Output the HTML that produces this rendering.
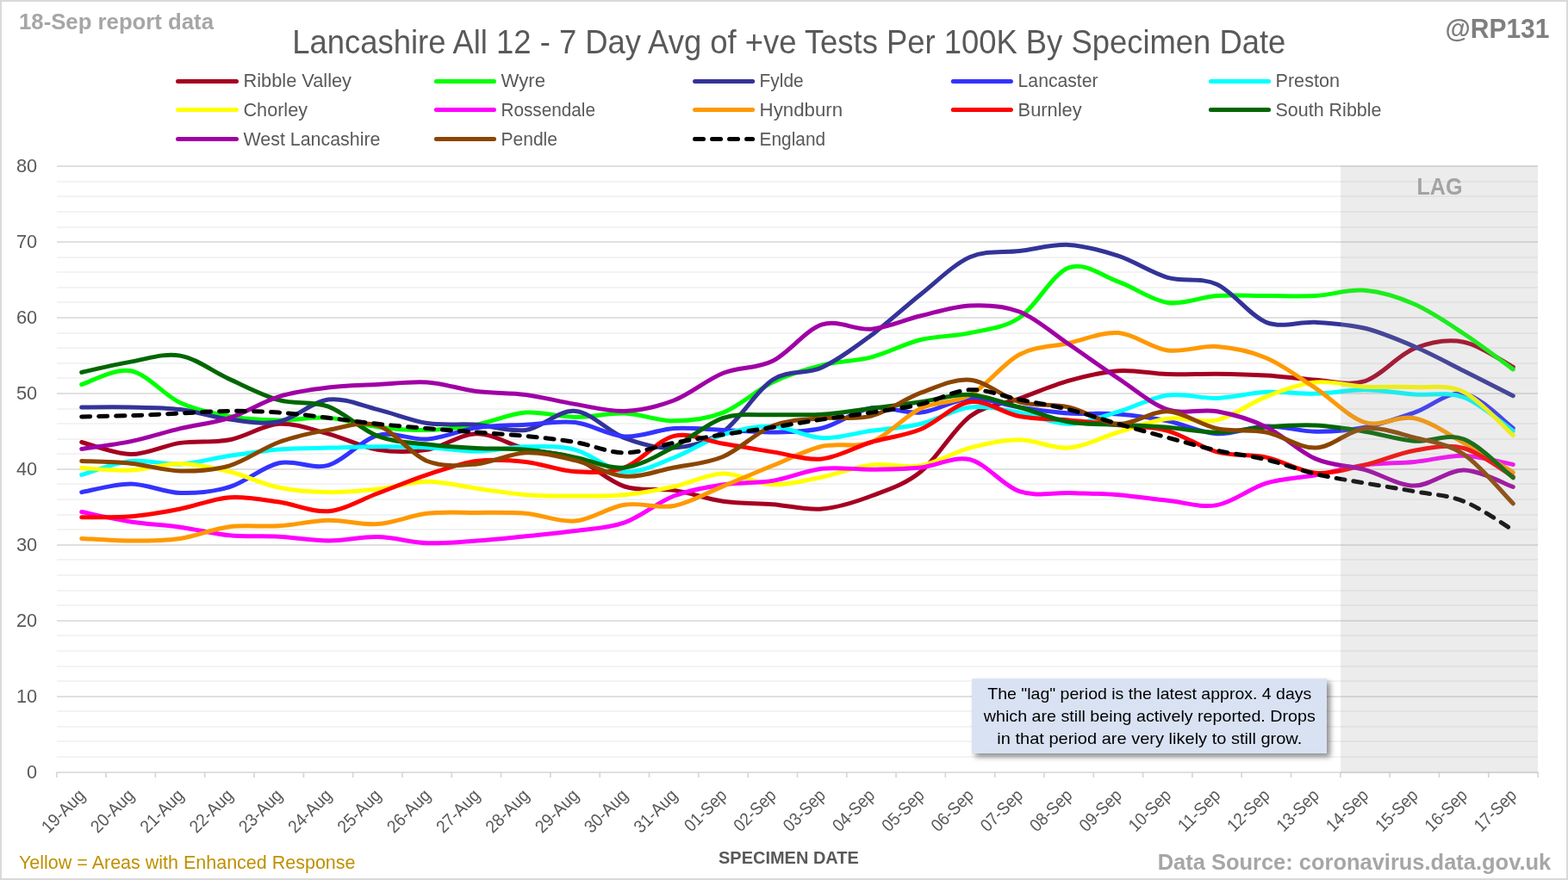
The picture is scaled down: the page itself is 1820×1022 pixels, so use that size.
<!DOCTYPE html>
<html lang="en"><head><meta charset="utf-8"><title>Lancashire All 12 - 7 Day Avg of +ve Tests Per 100K By Specimen Date</title>
<style>
html,body{margin:0;padding:0;background:#fff;}
body{width:1820px;height:1022px;overflow:hidden;}
svg{display:block;font-family:"Liberation Sans",sans-serif;}
.ax{fill:#595959;font-size:22.2px;}
.lg{fill:#595959;font-size:22px;}
.b{font-weight:bold;}
</style></head><body>
<svg width="1820" height="1022" viewBox="0 0 1820 1022">
<rect x="0" y="0" width="1820" height="1022" fill="#fff"/>
<rect x="1" y="1" width="1818" height="1020" fill="none" stroke="#D9D9D9" stroke-width="2"/>
<g stroke="#EFEFEF" stroke-width="1.4">
<line x1="66.0" x2="1785.0" y1="879.00" y2="879.00"/>
<line x1="66.0" x2="1785.0" y1="861.00" y2="861.00"/>
<line x1="66.0" x2="1785.0" y1="844.00" y2="844.00"/>
<line x1="66.0" x2="1785.0" y1="826.00" y2="826.00"/>
<line x1="66.0" x2="1785.0" y1="791.00" y2="791.00"/>
<line x1="66.0" x2="1785.0" y1="774.00" y2="774.00"/>
<line x1="66.0" x2="1785.0" y1="756.00" y2="756.00"/>
<line x1="66.0" x2="1785.0" y1="738.00" y2="738.00"/>
<line x1="66.0" x2="1785.0" y1="703.00" y2="703.00"/>
<line x1="66.0" x2="1785.0" y1="686.00" y2="686.00"/>
<line x1="66.0" x2="1785.0" y1="668.00" y2="668.00"/>
<line x1="66.0" x2="1785.0" y1="650.00" y2="650.00"/>
<line x1="66.0" x2="1785.0" y1="615.00" y2="615.00"/>
<line x1="66.0" x2="1785.0" y1="598.00" y2="598.00"/>
<line x1="66.0" x2="1785.0" y1="580.00" y2="580.00"/>
<line x1="66.0" x2="1785.0" y1="562.00" y2="562.00"/>
<line x1="66.0" x2="1785.0" y1="527.00" y2="527.00"/>
<line x1="66.0" x2="1785.0" y1="510.00" y2="510.00"/>
<line x1="66.0" x2="1785.0" y1="492.00" y2="492.00"/>
<line x1="66.0" x2="1785.0" y1="475.00" y2="475.00"/>
<line x1="66.0" x2="1785.0" y1="439.00" y2="439.00"/>
<line x1="66.0" x2="1785.0" y1="422.00" y2="422.00"/>
<line x1="66.0" x2="1785.0" y1="404.00" y2="404.00"/>
<line x1="66.0" x2="1785.0" y1="387.00" y2="387.00"/>
<line x1="66.0" x2="1785.0" y1="351.00" y2="351.00"/>
<line x1="66.0" x2="1785.0" y1="334.00" y2="334.00"/>
<line x1="66.0" x2="1785.0" y1="316.00" y2="316.00"/>
<line x1="66.0" x2="1785.0" y1="299.00" y2="299.00"/>
<line x1="66.0" x2="1785.0" y1="264.00" y2="264.00"/>
<line x1="66.0" x2="1785.0" y1="246.00" y2="246.00"/>
<line x1="66.0" x2="1785.0" y1="228.00" y2="228.00"/>
<line x1="66.0" x2="1785.0" y1="211.00" y2="211.00"/>
</g>
<g stroke="#D6D6D6" stroke-width="1.7">
<line x1="66.0" x2="1785.0" y1="809.00" y2="809.00"/>
<line x1="66.0" x2="1785.0" y1="721.00" y2="721.00"/>
<line x1="66.0" x2="1785.0" y1="633.00" y2="633.00"/>
<line x1="66.0" x2="1785.0" y1="545.00" y2="545.00"/>
<line x1="66.0" x2="1785.0" y1="457.00" y2="457.00"/>
<line x1="66.0" x2="1785.0" y1="369.00" y2="369.00"/>
<line x1="66.0" x2="1785.0" y1="281.00" y2="281.00"/>
<line x1="66.0" x2="1785.0" y1="193.00" y2="193.00"/>
</g>
<g stroke="#D6D6D6" stroke-width="1.7">
<line x1="65.2" x2="1785.8" y1="897.00" y2="897.00"/>
<line x1="65.8" x2="65.8" y1="897.00" y2="903.00"/>
<line x1="123.1" x2="123.1" y1="897.00" y2="903.00"/>
<line x1="180.4" x2="180.4" y1="897.00" y2="903.00"/>
<line x1="237.7" x2="237.7" y1="897.00" y2="903.00"/>
<line x1="295.0" x2="295.0" y1="897.00" y2="903.00"/>
<line x1="352.4" x2="352.4" y1="897.00" y2="903.00"/>
<line x1="409.7" x2="409.7" y1="897.00" y2="903.00"/>
<line x1="467.0" x2="467.0" y1="897.00" y2="903.00"/>
<line x1="524.3" x2="524.3" y1="897.00" y2="903.00"/>
<line x1="581.6" x2="581.6" y1="897.00" y2="903.00"/>
<line x1="638.9" x2="638.9" y1="897.00" y2="903.00"/>
<line x1="696.2" x2="696.2" y1="897.00" y2="903.00"/>
<line x1="753.5" x2="753.5" y1="897.00" y2="903.00"/>
<line x1="810.8" x2="810.8" y1="897.00" y2="903.00"/>
<line x1="868.1" x2="868.1" y1="897.00" y2="903.00"/>
<line x1="925.5" x2="925.5" y1="897.00" y2="903.00"/>
<line x1="982.8" x2="982.8" y1="897.00" y2="903.00"/>
<line x1="1040.1" x2="1040.1" y1="897.00" y2="903.00"/>
<line x1="1097.4" x2="1097.4" y1="897.00" y2="903.00"/>
<line x1="1154.7" x2="1154.7" y1="897.00" y2="903.00"/>
<line x1="1212.0" x2="1212.0" y1="897.00" y2="903.00"/>
<line x1="1269.3" x2="1269.3" y1="897.00" y2="903.00"/>
<line x1="1326.6" x2="1326.6" y1="897.00" y2="903.00"/>
<line x1="1383.9" x2="1383.9" y1="897.00" y2="903.00"/>
<line x1="1441.2" x2="1441.2" y1="897.00" y2="903.00"/>
<line x1="1498.5" x2="1498.5" y1="897.00" y2="903.00"/>
<line x1="1555.9" x2="1555.9" y1="897.00" y2="903.00"/>
<line x1="1613.2" x2="1613.2" y1="897.00" y2="903.00"/>
<line x1="1670.5" x2="1670.5" y1="897.00" y2="903.00"/>
<line x1="1727.8" x2="1727.8" y1="897.00" y2="903.00"/>
<line x1="1785.1" x2="1785.1" y1="897.00" y2="903.00"/>
</g>
<g class="ax" text-anchor="end">
<text x="43.1" y="904.2" textLength="12.1" lengthAdjust="spacingAndGlyphs">0</text>
<text x="43.1" y="816.2" textLength="24.2" lengthAdjust="spacingAndGlyphs">10</text>
<text x="43.1" y="728.2" textLength="24.2" lengthAdjust="spacingAndGlyphs">20</text>
<text x="43.1" y="640.2" textLength="24.2" lengthAdjust="spacingAndGlyphs">30</text>
<text x="43.1" y="552.2" textLength="24.2" lengthAdjust="spacingAndGlyphs">40</text>
<text x="43.1" y="464.2" textLength="24.2" lengthAdjust="spacingAndGlyphs">50</text>
<text x="43.1" y="376.2" textLength="24.2" lengthAdjust="spacingAndGlyphs">60</text>
<text x="43.1" y="288.2" textLength="24.2" lengthAdjust="spacingAndGlyphs">70</text>
<text x="43.1" y="200.2" textLength="24.2" lengthAdjust="spacingAndGlyphs">80</text>
</g>
<g class="ax" style="font-size:20.6px" text-anchor="end">
<text transform="translate(99.9 924.9) rotate(-45)" textLength="61.5" lengthAdjust="spacingAndGlyphs">19-Aug</text>
<text transform="translate(157.1 924.9) rotate(-45)" textLength="61.5" lengthAdjust="spacingAndGlyphs">20-Aug</text>
<text transform="translate(214.4 924.9) rotate(-45)" textLength="61.5" lengthAdjust="spacingAndGlyphs">21-Aug</text>
<text transform="translate(271.7 924.9) rotate(-45)" textLength="61.5" lengthAdjust="spacingAndGlyphs">22-Aug</text>
<text transform="translate(329.0 924.9) rotate(-45)" textLength="61.5" lengthAdjust="spacingAndGlyphs">23-Aug</text>
<text transform="translate(386.3 924.9) rotate(-45)" textLength="61.5" lengthAdjust="spacingAndGlyphs">24-Aug</text>
<text transform="translate(443.6 924.9) rotate(-45)" textLength="61.5" lengthAdjust="spacingAndGlyphs">25-Aug</text>
<text transform="translate(500.9 924.9) rotate(-45)" textLength="61.5" lengthAdjust="spacingAndGlyphs">26-Aug</text>
<text transform="translate(558.2 924.9) rotate(-45)" textLength="61.5" lengthAdjust="spacingAndGlyphs">27-Aug</text>
<text transform="translate(615.6 924.9) rotate(-45)" textLength="61.5" lengthAdjust="spacingAndGlyphs">28-Aug</text>
<text transform="translate(672.9 924.9) rotate(-45)" textLength="61.5" lengthAdjust="spacingAndGlyphs">29-Aug</text>
<text transform="translate(730.1 924.9) rotate(-45)" textLength="61.5" lengthAdjust="spacingAndGlyphs">30-Aug</text>
<text transform="translate(787.5 924.9) rotate(-45)" textLength="61.5" lengthAdjust="spacingAndGlyphs">31-Aug</text>
<text transform="translate(844.8 924.9) rotate(-45)" textLength="59.7" lengthAdjust="spacingAndGlyphs">01-Sep</text>
<text transform="translate(902.0 924.9) rotate(-45)" textLength="59.7" lengthAdjust="spacingAndGlyphs">02-Sep</text>
<text transform="translate(959.4 924.9) rotate(-45)" textLength="59.7" lengthAdjust="spacingAndGlyphs">03-Sep</text>
<text transform="translate(1016.6 924.9) rotate(-45)" textLength="59.7" lengthAdjust="spacingAndGlyphs">04-Sep</text>
<text transform="translate(1074.0 924.9) rotate(-45)" textLength="59.7" lengthAdjust="spacingAndGlyphs">05-Sep</text>
<text transform="translate(1131.2 924.9) rotate(-45)" textLength="59.7" lengthAdjust="spacingAndGlyphs">06-Sep</text>
<text transform="translate(1188.5 924.9) rotate(-45)" textLength="59.7" lengthAdjust="spacingAndGlyphs">07-Sep</text>
<text transform="translate(1245.8 924.9) rotate(-45)" textLength="59.7" lengthAdjust="spacingAndGlyphs">08-Sep</text>
<text transform="translate(1303.2 924.9) rotate(-45)" textLength="59.7" lengthAdjust="spacingAndGlyphs">09-Sep</text>
<text transform="translate(1360.5 924.9) rotate(-45)" textLength="59.7" lengthAdjust="spacingAndGlyphs">10-Sep</text>
<text transform="translate(1417.8 924.9) rotate(-45)" textLength="59.7" lengthAdjust="spacingAndGlyphs">11-Sep</text>
<text transform="translate(1475.0 924.9) rotate(-45)" textLength="59.7" lengthAdjust="spacingAndGlyphs">12-Sep</text>
<text transform="translate(1532.3 924.9) rotate(-45)" textLength="59.7" lengthAdjust="spacingAndGlyphs">13-Sep</text>
<text transform="translate(1589.6 924.9) rotate(-45)" textLength="59.7" lengthAdjust="spacingAndGlyphs">14-Sep</text>
<text transform="translate(1647.0 924.9) rotate(-45)" textLength="59.7" lengthAdjust="spacingAndGlyphs">15-Sep</text>
<text transform="translate(1704.2 924.9) rotate(-45)" textLength="59.7" lengthAdjust="spacingAndGlyphs">16-Sep</text>
<text transform="translate(1761.5 924.9) rotate(-45)" textLength="59.7" lengthAdjust="spacingAndGlyphs">17-Sep</text>
</g>
<g fill="none" stroke-width="5.0" stroke-linecap="round" stroke-linejoin="round">
<path stroke="#A50021" d="M94.7 513.5C104.2 515.8 132.8 527.4 151.9 527.6C171.0 527.7 190.2 517.2 209.2 514.4C228.3 511.6 247.4 514.5 266.5 510.8C285.6 507.2 304.7 493.5 323.8 492.3C342.9 491.2 362.0 498.8 381.1 503.8C400.2 508.8 419.3 519.2 438.4 522.3C457.6 525.4 476.6 525.4 495.8 522.3C514.9 519.2 533.9 503.9 553.0 503.8C572.1 503.6 591.2 516.7 610.4 521.4C629.5 526.1 648.5 524.7 667.6 532.0C686.8 539.3 705.8 558.8 724.9 565.0C744.0 571.3 763.1 566.6 782.2 569.4C801.4 572.3 820.4 579.5 839.5 582.2C858.6 584.9 877.7 584.3 896.8 585.7C915.9 587.2 935.0 592.6 954.1 591.0C973.2 589.4 992.3 583.2 1011.4 576.0C1030.5 568.8 1049.7 563.3 1068.8 547.8C1087.8 532.4 1107.0 497.7 1126.0 483.5C1145.1 469.4 1164.2 469.7 1183.3 462.8C1202.4 455.9 1221.5 447.5 1240.6 442.1C1259.8 436.8 1278.8 431.9 1298.0 430.7C1317.1 429.4 1336.2 434.0 1355.2 434.6C1374.3 435.2 1393.5 434.0 1412.5 434.2C1431.6 434.4 1450.8 434.8 1469.8 436.0C1488.9 437.1 1508.0 440.1 1527.1 441.2C1546.2 442.3 1565.3 448.7 1584.4 442.6C1603.5 436.5 1622.7 412.2 1641.8 404.7C1660.8 397.1 1680.0 393.6 1699.0 397.2C1718.1 400.8 1746.8 421.4 1756.3 426.3"/>
<path stroke="#00FF00" d="M94.7 446.5C104.2 443.9 132.8 427.1 151.9 430.7C171.0 434.2 190.2 458.9 209.2 467.7C228.3 476.5 247.4 480.2 266.5 483.5C285.6 486.9 304.7 487.6 323.8 487.9C342.9 488.2 362.0 484.0 381.1 485.3C400.2 486.6 419.3 493.5 438.4 495.9C457.6 498.2 476.6 499.8 495.8 499.4C514.9 498.9 533.9 496.6 553.0 493.2C572.1 489.8 591.2 480.6 610.4 479.1C629.5 477.7 648.5 484.3 667.6 484.4C686.8 484.6 705.8 479.3 724.9 480.0C744.0 480.7 763.1 489.0 782.2 488.8C801.4 488.7 820.4 486.6 839.5 479.1C858.6 471.6 877.7 453.1 896.8 443.9C915.9 434.7 935.0 428.9 954.1 424.1C973.2 419.2 992.3 419.7 1011.4 414.8C1030.5 409.9 1049.7 399.2 1068.8 394.5C1087.8 389.9 1107.0 390.9 1126.0 386.6C1145.1 382.4 1164.2 381.6 1183.3 369.0C1202.4 356.4 1221.5 317.8 1240.6 310.9C1259.8 303.9 1278.8 320.4 1298.0 327.2C1317.1 333.9 1336.2 348.7 1355.2 351.4C1374.3 354.1 1393.5 344.8 1412.5 343.5C1431.6 342.1 1450.8 343.5 1469.8 343.5C1488.9 343.5 1508.0 344.5 1527.1 343.5C1546.2 342.4 1565.3 335.6 1584.4 337.3C1603.5 338.9 1622.7 344.9 1641.8 353.3C1660.8 361.7 1680.0 374.9 1699.0 387.5C1718.1 400.1 1746.8 422.0 1756.3 428.9"/>
<path stroke="#333399" d="M94.7 473.0C104.2 473.0 132.8 472.5 151.9 473.0C171.0 473.4 190.2 473.3 209.2 475.6C228.3 478.0 247.4 484.7 266.5 487.1C285.6 489.4 304.7 493.5 323.8 489.7C342.9 485.9 362.0 466.5 381.1 464.1C400.2 461.8 419.3 471.0 438.4 475.6C457.6 480.2 476.6 488.5 495.8 491.5C514.9 494.4 533.9 491.9 553.0 493.2C572.1 494.5 591.2 502.0 610.4 499.4C629.5 496.7 648.5 475.8 667.6 477.4C686.8 478.9 705.8 501.5 724.9 508.6C744.0 515.8 763.1 521.3 782.2 520.1C801.4 518.8 820.4 514.3 839.5 501.2C858.6 488.0 877.7 453.6 896.8 441.2C915.9 428.8 935.0 435.4 954.1 426.7C973.2 418.0 992.3 403.4 1011.4 389.3C1030.5 375.1 1049.7 356.8 1068.8 341.7C1087.8 326.6 1107.0 306.9 1126.0 298.5C1145.1 290.2 1164.2 293.8 1183.3 291.5C1202.4 289.1 1221.5 283.5 1240.6 284.4C1259.8 285.4 1278.8 290.9 1298.0 297.2C1317.1 303.5 1336.2 316.8 1355.2 322.3C1374.3 327.8 1393.5 321.6 1412.5 330.2C1431.6 338.9 1450.8 366.9 1469.8 374.3C1488.9 381.6 1508.0 373.1 1527.1 374.3C1546.2 375.5 1565.3 376.6 1584.4 381.3C1603.5 386.0 1622.7 394.3 1641.8 402.5C1660.8 410.7 1680.0 421.1 1699.0 430.7C1718.1 440.2 1746.8 454.9 1756.3 459.7"/>
<path stroke="#3333FF" d="M94.7 571.6C104.2 570.0 132.8 561.8 151.9 561.9C171.0 562.1 190.2 571.9 209.2 572.5C228.3 573.1 247.4 571.3 266.5 565.5C285.6 559.7 304.7 541.9 323.8 537.7C342.9 533.5 362.0 545.7 381.1 540.4C400.2 535.0 419.3 510.6 438.4 505.6C457.6 500.5 476.6 511.4 495.8 510.0C514.9 508.5 533.9 499.5 553.0 496.7C572.1 494.0 591.2 494.2 610.4 493.2C629.5 492.2 648.5 488.3 667.6 490.6C686.8 492.9 705.8 505.7 724.9 506.9C744.0 508.1 763.1 498.9 782.2 497.6C801.4 496.4 820.4 498.7 839.5 499.4C858.6 500.1 877.7 502.4 896.8 502.0C915.9 501.7 935.0 501.9 954.1 497.2C973.2 492.5 992.3 476.8 1011.4 473.8C1030.5 470.8 1049.7 481.0 1068.8 479.1C1087.8 477.3 1107.0 463.9 1126.0 462.8C1145.1 461.8 1164.2 470.1 1183.3 473.0C1202.4 475.8 1221.5 478.7 1240.6 480.0C1259.8 481.3 1278.8 479.4 1298.0 480.9C1317.1 482.4 1336.2 485.0 1355.2 488.8C1374.3 492.6 1393.5 502.8 1412.5 503.8C1431.6 504.8 1450.8 495.4 1469.8 495.0C1488.9 494.5 1508.0 500.9 1527.1 501.2C1546.2 501.4 1565.3 500.0 1584.4 496.3C1603.5 492.6 1622.7 485.7 1641.8 479.1C1660.8 472.6 1680.0 454.1 1699.0 457.1C1718.1 460.1 1746.8 490.5 1756.3 497.2"/>
<path stroke="#00FFFF" d="M94.7 551.4C104.2 548.7 132.8 537.6 151.9 535.5C171.0 533.5 190.2 540.1 209.2 539.0C228.3 538.0 247.4 532.2 266.5 529.3C285.6 526.5 304.7 523.4 323.8 521.9C342.9 520.3 362.0 520.6 381.1 520.1C400.2 519.6 419.3 518.8 438.4 518.8C457.6 518.7 476.6 518.8 495.8 519.7C514.9 520.5 533.9 524.2 553.0 524.1C572.1 523.9 591.2 519.1 610.4 518.8C629.5 518.5 648.5 517.4 667.6 522.3C686.8 527.1 705.8 546.3 724.9 547.8C744.0 549.4 763.1 538.7 782.2 531.5C801.4 524.3 820.4 510.8 839.5 504.7C858.6 498.6 877.7 494.3 896.8 495.0C915.9 495.6 935.0 507.8 954.1 508.6C973.2 509.5 992.3 503.0 1011.4 500.3C1030.5 497.6 1049.7 496.9 1068.8 492.3C1087.8 487.8 1107.0 475.2 1126.0 473.0C1145.1 470.8 1164.2 475.9 1183.3 479.1C1202.4 482.4 1221.5 492.5 1240.6 492.3C1259.8 492.2 1278.8 483.8 1298.0 478.2C1317.1 472.7 1336.2 461.5 1355.2 458.9C1374.3 456.2 1393.5 463.0 1412.5 462.4C1431.6 461.8 1450.8 456.2 1469.8 455.3C1488.9 454.5 1508.0 457.5 1527.1 457.1C1546.2 456.7 1565.3 452.5 1584.4 452.7C1603.5 452.8 1622.7 456.5 1641.8 458.0C1660.8 459.4 1680.0 454.5 1699.0 461.5C1718.1 468.6 1746.8 493.8 1756.3 500.3"/>
<path stroke="#FFFF00" d="M94.7 543.4C104.2 543.9 132.8 546.9 151.9 546.1C171.0 545.3 190.2 538.3 209.2 538.6C228.3 538.9 247.4 543.2 266.5 547.8C285.6 552.5 304.7 562.4 323.8 566.3C342.9 570.3 362.0 571.3 381.1 571.6C400.2 571.9 419.3 570.2 438.4 568.1C457.6 566.1 476.6 559.4 495.8 559.3C514.9 559.1 533.9 564.7 553.0 567.2C572.1 569.8 591.2 573.2 610.4 574.7C629.5 576.2 648.5 576.0 667.6 576.0C686.8 576.0 705.8 576.5 724.9 574.7C744.0 572.9 763.1 569.1 782.2 565.0C801.4 560.9 820.4 550.4 839.5 550.0C858.6 549.7 877.7 562.2 896.8 562.8C915.9 563.5 935.0 557.8 954.1 554.0C973.2 550.2 992.3 542.1 1011.4 539.9C1030.5 537.7 1049.7 544.1 1068.8 540.8C1087.8 537.5 1107.0 525.1 1126.0 520.1C1145.1 515.1 1164.2 510.8 1183.3 510.8C1202.4 510.8 1221.5 521.6 1240.6 520.1C1259.8 518.6 1278.8 507.7 1298.0 502.0C1317.1 496.4 1336.2 488.5 1355.2 486.2C1374.3 483.8 1393.5 492.2 1412.5 487.9C1431.6 483.7 1450.8 468.0 1469.8 460.6C1488.9 453.3 1508.0 445.8 1527.1 443.9C1546.2 442.0 1565.3 448.2 1584.4 449.2C1603.5 450.1 1622.7 448.6 1641.8 449.6C1660.8 450.6 1680.0 446.0 1699.0 455.3C1718.1 464.7 1746.8 497.2 1756.3 505.6"/>
<path stroke="#FF00FF" d="M94.7 594.5C104.2 596.4 132.8 603.1 151.9 606.0C171.0 608.9 190.2 609.5 209.2 612.2C228.3 614.8 247.4 620.0 266.5 621.8C285.6 623.7 304.7 622.1 323.8 623.2C342.9 624.2 362.0 627.9 381.1 628.0C400.2 628.1 419.3 623.2 438.4 623.6C457.6 624.0 476.6 629.9 495.8 630.7C514.9 631.4 533.9 629.3 553.0 628.0C572.1 626.7 591.2 624.6 610.4 622.7C629.5 620.8 648.5 619.2 667.6 616.6C686.8 613.9 705.8 613.6 724.9 606.9C744.0 600.1 763.1 583.4 782.2 576.0C801.4 568.7 820.4 565.8 839.5 562.8C858.6 559.9 877.7 561.5 896.8 558.4C915.9 555.3 935.0 546.5 954.1 544.3C973.2 542.1 992.3 545.4 1011.4 545.2C1030.5 545.0 1049.7 544.9 1068.8 543.0C1087.8 541.1 1107.0 529.1 1126.0 533.7C1145.1 538.4 1164.2 564.3 1183.3 570.7C1202.4 577.2 1221.5 571.9 1240.6 572.5C1259.8 573.2 1278.8 573.2 1298.0 574.7C1317.1 576.2 1336.2 579.3 1355.2 581.3C1374.3 583.3 1393.5 590.0 1412.5 586.6C1431.6 583.2 1450.8 566.9 1469.8 561.1C1488.9 555.3 1508.0 555.3 1527.1 551.8C1546.2 548.3 1565.3 542.5 1584.4 539.9C1603.5 537.3 1622.7 538.2 1641.8 536.4C1660.8 534.6 1680.0 528.8 1699.0 529.3C1718.1 529.9 1746.8 537.8 1756.3 539.5"/>
<path stroke="#FF9900" d="M94.7 625.4C104.2 625.8 132.8 628.0 151.9 628.0C171.0 628.0 190.2 628.1 209.2 625.4C228.3 622.7 247.4 614.1 266.5 611.7C285.6 609.3 304.7 612.1 323.8 610.8C342.9 609.6 362.0 604.6 381.1 604.2C400.2 603.9 419.3 610.0 438.4 608.6C457.6 607.3 476.6 598.5 495.8 596.3C514.9 594.1 533.9 595.4 553.0 595.4C572.1 595.4 591.2 594.7 610.4 596.3C629.5 597.9 648.5 606.8 667.6 605.1C686.8 603.4 705.8 589.1 724.9 586.2C744.0 583.2 763.1 591.1 782.2 587.5C801.4 583.9 820.4 572.4 839.5 564.6C858.6 556.8 877.7 548.5 896.8 540.8C915.9 533.1 935.0 522.9 954.1 518.3C973.2 513.8 992.3 520.8 1011.4 513.5C1030.5 506.1 1049.7 483.4 1068.8 474.3C1087.8 465.2 1107.0 469.3 1126.0 458.9C1145.1 448.4 1164.2 421.8 1183.3 411.7C1202.4 401.7 1221.5 402.7 1240.6 398.5C1259.8 394.3 1278.8 385.2 1298.0 386.6C1317.1 388.0 1336.2 404.2 1355.2 406.9C1374.3 409.5 1393.5 401.0 1412.5 402.5C1431.6 403.9 1450.8 407.6 1469.8 415.7C1488.9 423.8 1508.0 438.5 1527.1 450.9C1546.2 463.4 1565.3 484.8 1584.4 490.6C1603.5 496.4 1622.7 481.8 1641.8 485.7C1660.8 489.7 1680.0 503.9 1699.0 514.4C1718.1 524.9 1746.8 543.0 1756.3 548.7"/>
<path stroke="#FF0000" d="M94.7 600.7C104.2 600.6 132.8 601.4 151.9 599.8C171.0 598.2 190.2 594.7 209.2 591.0C228.3 587.3 247.4 579.1 266.5 577.8C285.6 576.5 304.7 580.4 323.8 583.1C342.9 585.7 362.0 595.3 381.1 593.7C400.2 592.0 419.3 580.0 438.4 573.0C457.6 565.9 476.6 557.6 495.8 551.4C514.9 545.1 533.9 538.0 553.0 535.5C572.1 533.0 591.2 534.3 610.4 536.4C629.5 538.4 648.5 546.7 667.6 547.8C686.8 548.9 705.8 549.9 724.9 543.0C744.0 536.1 763.1 511.1 782.2 506.4C801.4 501.8 820.4 512.2 839.5 515.2C858.6 518.3 877.7 522.0 896.8 524.9C915.9 527.9 935.0 534.8 954.1 532.9C973.2 531.0 992.3 519.2 1011.4 513.5C1030.5 507.8 1049.7 506.3 1068.8 498.5C1087.8 490.7 1107.0 469.3 1126.0 466.8C1145.1 464.3 1164.2 480.0 1183.3 483.5C1202.4 487.1 1221.5 486.2 1240.6 487.9C1259.8 489.6 1278.8 491.6 1298.0 493.7C1317.1 495.7 1336.2 495.1 1355.2 500.3C1374.3 505.5 1393.5 519.8 1412.5 524.9C1431.6 530.1 1450.8 527.1 1469.8 531.1C1488.9 535.1 1508.0 547.7 1527.1 549.2C1546.2 550.6 1565.3 544.2 1584.4 539.9C1603.5 535.6 1622.7 526.4 1641.8 523.2C1660.8 519.9 1680.0 515.5 1699.0 520.5C1718.1 525.6 1746.8 548.1 1756.3 553.6"/>
<path stroke="#006600" d="M94.7 432.4C104.2 430.4 132.8 423.3 151.9 420.1C171.0 416.9 190.2 409.7 209.2 413.1C228.3 416.4 247.4 431.8 266.5 440.4C285.6 449.0 304.7 459.3 323.8 464.6C342.9 469.9 362.0 465.1 381.1 472.1C400.2 479.1 419.3 499.1 438.4 506.4C457.6 513.8 476.6 513.8 495.8 516.1C514.9 518.5 533.9 519.5 553.0 520.5C572.1 521.6 591.2 520.5 610.4 522.3C629.5 524.1 648.5 527.7 667.6 531.1C686.8 534.6 705.8 545.0 724.9 543.0C744.0 541.0 763.1 528.8 782.2 519.2C801.4 509.6 820.4 491.5 839.5 485.3C858.6 479.1 877.7 482.4 896.8 481.8C915.9 481.1 935.0 482.6 954.1 481.3C973.2 480.1 992.3 476.7 1011.4 474.3C1030.5 471.9 1049.7 469.4 1068.8 466.8C1087.8 464.1 1107.0 457.4 1126.0 458.4C1145.1 459.4 1164.2 467.7 1183.3 473.0C1202.4 478.2 1221.5 486.8 1240.6 490.1C1259.8 493.5 1278.8 492.2 1298.0 493.2C1317.1 494.2 1336.2 494.8 1355.2 496.3C1374.3 497.8 1393.5 502.1 1412.5 502.0C1431.6 502.0 1450.8 497.2 1469.8 495.9C1488.9 494.5 1508.0 493.2 1527.1 494.1C1546.2 495.0 1565.3 498.1 1584.4 501.2C1603.5 504.2 1622.7 510.7 1641.8 512.2C1660.8 513.6 1680.0 502.8 1699.0 510.0C1718.1 517.1 1746.8 547.4 1756.3 554.9"/>
<path stroke="#A000A5" d="M94.7 521.4C104.2 519.9 132.8 516.6 151.9 512.6C171.0 508.6 190.2 502.2 209.2 497.6C228.3 493.1 247.4 491.5 266.5 485.3C285.6 479.1 304.7 466.5 323.8 460.6C342.9 454.8 362.0 452.4 381.1 450.1C400.2 447.7 419.3 447.6 438.4 446.5C457.6 445.5 476.6 442.6 495.8 443.9C514.9 445.2 533.9 452.0 553.0 454.5C572.1 456.9 591.2 455.9 610.4 458.4C629.5 460.9 648.5 466.3 667.6 469.4C686.8 472.6 705.8 478.1 724.9 477.4C744.0 476.6 763.1 472.4 782.2 465.0C801.4 457.7 820.4 440.9 839.5 433.3C858.6 425.7 877.7 428.6 896.8 419.2C915.9 409.8 935.0 383.1 954.1 376.9C973.2 370.8 992.3 383.9 1011.4 382.2C1030.5 380.5 1049.7 371.3 1068.8 366.8C1087.8 362.2 1107.0 355.7 1126.0 354.9C1145.1 354.1 1164.2 354.5 1183.3 362.0C1202.4 369.4 1221.5 386.9 1240.6 399.8C1259.8 412.8 1278.8 426.9 1298.0 439.5C1317.1 452.1 1336.2 469.2 1355.2 475.6C1374.3 482.0 1393.5 474.4 1412.5 477.8C1431.6 481.2 1450.8 486.7 1469.8 495.9C1488.9 505.0 1508.0 524.6 1527.1 532.9C1546.2 541.2 1565.3 540.4 1584.4 545.6C1603.5 550.9 1622.7 564.1 1641.8 564.1C1660.8 564.2 1680.0 545.9 1699.0 546.1C1718.1 546.3 1746.8 562.2 1756.3 565.5"/>
<path stroke="#8B4500" d="M94.7 535.5C104.2 535.9 132.8 536.2 151.9 538.2C171.0 540.1 190.2 546.5 209.2 547.0C228.3 547.4 247.4 546.4 266.5 540.8C285.6 535.2 304.7 520.4 323.8 513.5C342.9 506.6 362.0 502.6 381.1 499.4C400.2 496.2 419.3 488.1 438.4 494.1C457.6 500.1 476.6 528.0 495.8 535.5C514.9 543.0 533.9 540.6 553.0 539.0C572.1 537.4 591.2 526.6 610.4 525.8C629.5 525.1 648.5 530.1 667.6 534.6C686.8 539.2 705.8 551.7 724.9 553.1C744.0 554.5 763.1 546.8 782.2 543.0C801.4 539.2 820.4 538.3 839.5 530.2C858.6 522.1 877.7 502.0 896.8 494.5C915.9 487.1 935.0 487.6 954.1 485.7C973.2 483.8 992.3 488.0 1011.4 483.1C1030.5 478.2 1049.7 463.2 1068.8 456.2C1087.8 449.2 1107.0 439.5 1126.0 441.2C1145.1 443.0 1164.2 461.5 1183.3 466.8C1202.4 472.1 1221.5 468.7 1240.6 473.0C1259.8 477.2 1278.8 491.5 1298.0 492.3C1317.1 493.1 1336.2 476.9 1355.2 477.8C1374.3 478.7 1393.5 493.6 1412.5 497.6C1431.6 501.7 1450.8 498.3 1469.8 502.0C1488.9 505.8 1508.0 520.8 1527.1 520.1C1546.2 519.4 1565.3 499.6 1584.4 497.6C1603.5 495.6 1622.7 503.2 1641.8 508.2C1660.8 513.2 1680.0 514.8 1699.0 527.6C1718.1 540.4 1746.8 575.3 1756.3 584.8"/>
<path stroke="#000000" stroke-dasharray="10 10" d="M94.7 483.9C104.2 483.7 132.8 483.3 151.9 482.6C171.0 482.0 190.2 480.9 209.2 480.0C228.3 479.1 247.4 477.5 266.5 477.4C285.6 477.2 304.7 477.8 323.8 479.1C342.9 480.4 362.0 483.1 381.1 485.3C400.2 487.5 419.3 490.3 438.4 492.3C457.6 494.4 476.6 496.0 495.8 497.6C514.9 499.2 533.9 500.6 553.0 502.0C572.1 503.5 591.2 504.5 610.4 506.4C629.5 508.3 648.5 510.3 667.6 513.5C686.8 516.7 705.8 525.7 724.9 525.8C744.0 526.0 763.1 517.9 782.2 514.4C801.4 510.8 820.4 507.7 839.5 504.7C858.6 501.7 877.7 499.2 896.8 496.3C915.9 493.4 935.0 489.9 954.1 487.1C973.2 484.2 992.3 482.1 1011.4 479.1C1030.5 476.2 1049.7 473.8 1068.8 469.4C1087.8 465.0 1107.0 453.6 1126.0 452.7C1145.1 451.8 1164.2 460.3 1183.3 464.1C1202.4 468.0 1221.5 470.9 1240.6 475.6C1259.8 480.3 1278.8 486.9 1298.0 492.3C1317.1 497.8 1336.2 503.1 1355.2 508.2C1374.3 513.3 1393.5 518.9 1412.5 523.2C1431.6 527.4 1450.8 529.2 1469.8 533.7C1488.9 538.3 1508.0 545.9 1527.1 550.5C1546.2 555.0 1565.3 557.7 1584.4 561.1C1603.5 564.4 1622.7 567.2 1641.8 570.7C1660.8 574.3 1680.0 574.7 1699.0 582.2C1718.1 589.7 1746.8 610.1 1756.3 615.7"/>
</g>
<rect x="1556.1" y="192.3" width="228.9" height="705.8" fill="#9A9A9A" fill-opacity="0.19"/>
<text class="b" x="1671" y="225.6" text-anchor="middle" font-size="28" fill="#A3A3A3" textLength="53" lengthAdjust="spacingAndGlyphs">LAG</text>
<text x="339.3" y="61.8" font-size="39.5" fill="#595959" textLength="1153" lengthAdjust="spacingAndGlyphs">Lancashire All 12 - 7 Day Avg of +ve Tests Per 100K By Specimen Date</text>
<line x1="206.50" x2="274.50" y1="94.50" y2="94.50" stroke="#A50021" stroke-width="5.0" stroke-linecap="round"/>
<text class="lg" x="282.5" y="101.0" textLength="125.5" lengthAdjust="spacingAndGlyphs">Ribble Valley</text>
<line x1="506.40" x2="573.50" y1="94.50" y2="94.50" stroke="#00FF00" stroke-width="5.0" stroke-linecap="round"/>
<text class="lg" x="581.5" y="101.0" textLength="51.5" lengthAdjust="spacingAndGlyphs">Wyre</text>
<line x1="806.55" x2="873.65" y1="94.50" y2="94.50" stroke="#333399" stroke-width="5.0" stroke-linecap="round"/>
<text class="lg" x="881.6" y="101.0" textLength="51.0" lengthAdjust="spacingAndGlyphs">Fylde</text>
<line x1="1106.30" x2="1173.40" y1="94.50" y2="94.50" stroke="#3333FF" stroke-width="5.0" stroke-linecap="round"/>
<text class="lg" x="1181.6" y="101.0" textLength="93.0" lengthAdjust="spacingAndGlyphs">Lancaster</text>
<line x1="1405.40" x2="1472.60" y1="94.50" y2="94.50" stroke="#00FFFF" stroke-width="5.0" stroke-linecap="round"/>
<text class="lg" x="1480.5" y="101.0" textLength="74.5" lengthAdjust="spacingAndGlyphs">Preston</text>
<line x1="206.50" x2="274.50" y1="127.45" y2="127.45" stroke="#FFFF00" stroke-width="5.0" stroke-linecap="round"/>
<text class="lg" x="282.5" y="134.6" textLength="74.5" lengthAdjust="spacingAndGlyphs">Chorley</text>
<line x1="506.40" x2="573.50" y1="127.45" y2="127.45" stroke="#FF00FF" stroke-width="5.0" stroke-linecap="round"/>
<text class="lg" x="581.5" y="134.6" textLength="109.5" lengthAdjust="spacingAndGlyphs">Rossendale</text>
<line x1="806.55" x2="873.65" y1="127.45" y2="127.45" stroke="#FF9900" stroke-width="5.0" stroke-linecap="round"/>
<text class="lg" x="881.6" y="134.6" textLength="96.5" lengthAdjust="spacingAndGlyphs">Hyndburn</text>
<line x1="1106.30" x2="1173.40" y1="127.45" y2="127.45" stroke="#FF0000" stroke-width="5.0" stroke-linecap="round"/>
<text class="lg" x="1181.6" y="134.6" textLength="74.0" lengthAdjust="spacingAndGlyphs">Burnley</text>
<line x1="1405.40" x2="1472.60" y1="127.45" y2="127.45" stroke="#006600" stroke-width="5.0" stroke-linecap="round"/>
<text class="lg" x="1480.5" y="134.6" textLength="123.0" lengthAdjust="spacingAndGlyphs">South Ribble</text>
<line x1="206.50" x2="274.50" y1="161.40" y2="161.40" stroke="#A000A5" stroke-width="5.0" stroke-linecap="round"/>
<text class="lg" x="282.5" y="168.6" textLength="159.0" lengthAdjust="spacingAndGlyphs">West Lancashire</text>
<line x1="506.40" x2="573.50" y1="161.40" y2="161.40" stroke="#8B4500" stroke-width="5.0" stroke-linecap="round"/>
<text class="lg" x="581.5" y="168.6" textLength="65.5" lengthAdjust="spacingAndGlyphs">Pendle</text>
<line x1="806.55" x2="873.65" y1="161.40" y2="161.40" stroke="#000000" stroke-width="5.0" stroke-linecap="round" stroke-dasharray="10 10"/>
<text class="lg" x="881.6" y="168.6" textLength="76.5" lengthAdjust="spacingAndGlyphs">England</text>
<text class="b" x="22" y="34.4" font-size="25.5" fill="#A6A6A6" textLength="226" lengthAdjust="spacingAndGlyphs">18-Sep report data</text>
<text class="b" x="1677.5" y="43.6" font-size="30.5" fill="#7F7F7F" textLength="121" lengthAdjust="spacingAndGlyphs">@RP131</text>
<text x="22" y="1009" font-size="21.5" fill="#BF9000" textLength="390.5" lengthAdjust="spacingAndGlyphs">Yellow = Areas with Enhanced Response</text>
<text class="b" x="834" y="1002.8" font-size="20.4" fill="#595959" textLength="162.8" lengthAdjust="spacingAndGlyphs">SPECIMEN DATE</text>
<text class="b" x="1343.7" y="1009.7" font-size="26" fill="#A6A6A6" textLength="456.5" lengthAdjust="spacingAndGlyphs">Data Source: coronavirus.data.gov.uk</text>
<defs><filter id="sh" x="-10%" y="-20%" width="125%" height="150%"><feGaussianBlur in="SourceAlpha" stdDeviation="3.4"/><feOffset dx="4" dy="4"/><feComponentTransfer><feFuncA type="linear" slope="0.45"/></feComponentTransfer><feMerge><feMergeNode/><feMergeNode in="SourceGraphic"/></feMerge></filter></defs>
<rect x="1128" y="788.2" width="412" height="86.8" fill="#D9E2F3" filter="url(#sh)"/>
<g font-size="19" fill="#000" text-anchor="middle">
<text x="1334.3" y="811.6" textLength="376" lengthAdjust="spacingAndGlyphs">The "lag" period is the latest approx. 4 days</text>
<text x="1334.3" y="837.6" textLength="385" lengthAdjust="spacingAndGlyphs">which are still being actively reported. Drops</text>
<text x="1334.3" y="863.6" textLength="354" lengthAdjust="spacingAndGlyphs">in that period are very likely to still grow.</text>
</g>
</svg></body></html>
